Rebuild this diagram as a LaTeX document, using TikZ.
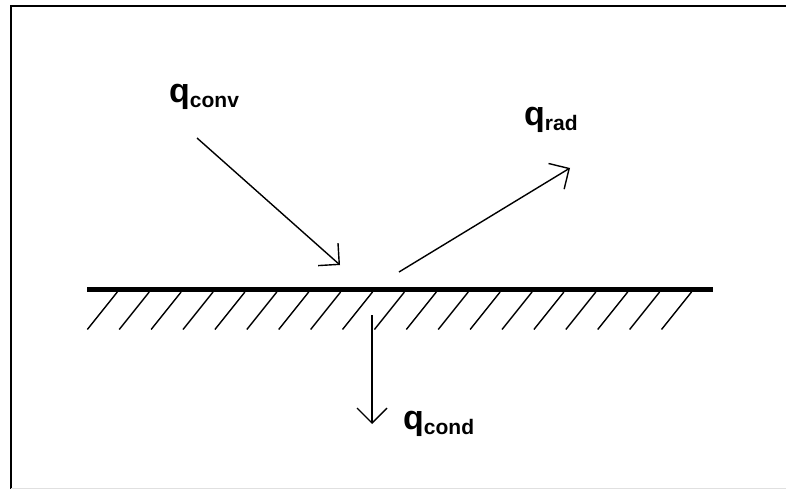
\documentclass[tikz,border=0pt]{standalone}
\usepackage{fontspec}
\setmainfont{Liberation Sans}
\usetikzlibrary{arrows.meta}

\tikzset{
  flux/.style={line width=1.4pt, -{Straight Barb[length=15pt,width=30pt]}},
  hatch/.style={line width=1.4pt},
  qlabel/.style={anchor=base west, inner sep=0pt, font=\bfseries}
}
\newcommand{\heatflux}[1]{\fontsize{34}{40}\selectfont q\raisebox{-5pt}{\fontsize{21}{25}\selectfont #1}}

\begin{document}
\begin{tikzpicture}[x=1pt,y=-1pt]
\useasboundingbox (0,0) rectangle (786,489);

% --- Frame ---
\draw[line width=2pt] (10.5,489) -- (10.5,6.5) -- (786,6.5);
\draw[black!12, line width=1pt] (10.5,488) -- (786,488);

% --- Wall surface and hatching ---
\draw[line width=5.5pt] (87,289.5) -- (713,289.5);
\foreach \i in {0,...,18}
  \draw[hatch] (87.3+31.9*\i,329.5) -- (117.3+31.9*\i,292);

% --- Arrow end points ---
\coordinate (convtail) at (197,138);
\coordinate (convhead) at (340,265);
\coordinate (radtail) at (399,272);
\coordinate (radhead) at (570,168);
\coordinate (condtail) at (372,315);
\coordinate (condhead) at (372,424);

% --- Labels ---
\node[qlabel] (qconv) at (169,103) {\heatflux{conv}};
\node[qlabel] (qrad) at (524,126) {\heatflux{rad}};
\node[qlabel] (qcond) at (403,429) {\heatflux{cond}};

% --- Heat flux arrows ---
\draw[flux] (convtail) -- (convhead);
\draw[flux] (radtail) -- (radhead);
\draw[flux] (condtail) -- (condhead);

\end{tikzpicture}
\end{document}
